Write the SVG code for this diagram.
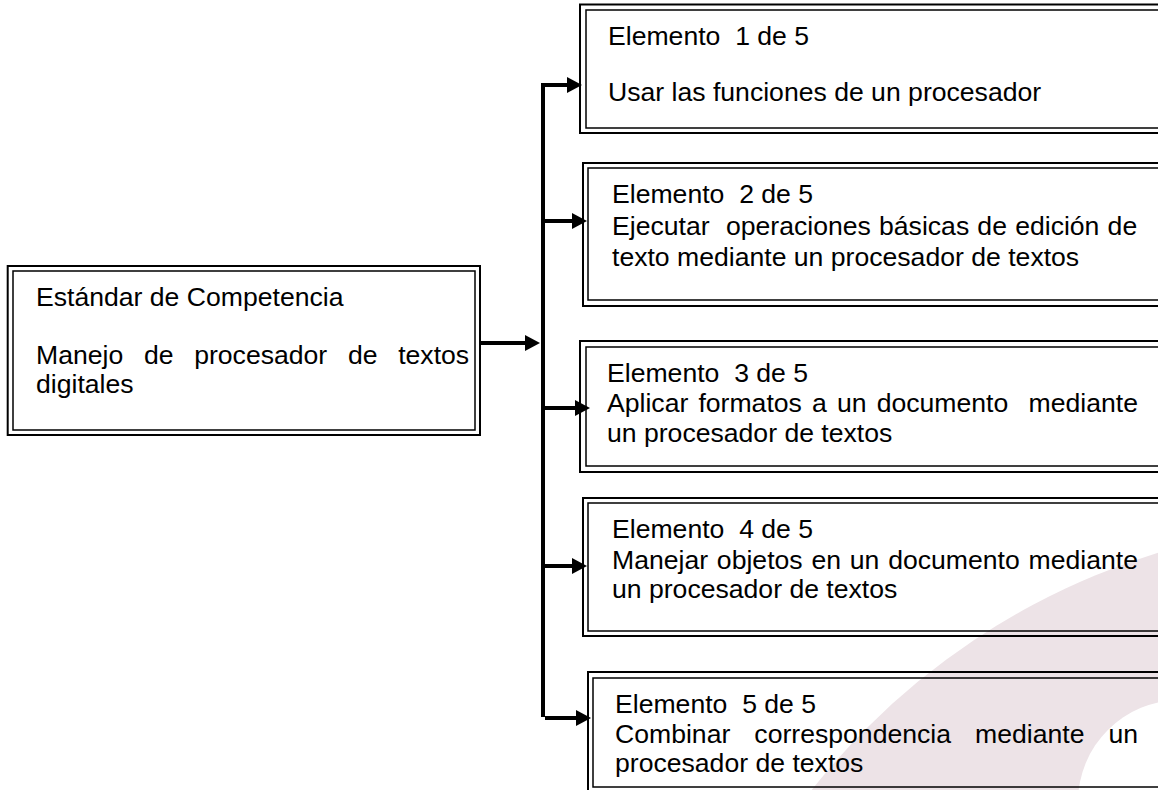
<svg xmlns="http://www.w3.org/2000/svg" width="1158" height="790" viewBox="0 0 1158 790" xml:space="preserve">
<style>
.o{fill:none;stroke:#000;stroke-width:2}
.i{fill:none;stroke:#000;stroke-width:1.5}
.t{font-family:"Liberation Sans",Arial,sans-serif;font-size:26.6px;fill:#000;white-space:pre}
.c{fill:none;stroke:#000;stroke-width:4}
.a{fill:#000;stroke:none}
</style>
<rect width="1158" height="790" fill="#fff"/>
<g id="watermark">
<circle cx="1364" cy="1225" r="703" fill="#ede3e7"/>
<circle cx="1180" cy="802" r="102" fill="#fff"/>
</g>
<g id="estandar">
<rect class="o" x="7.7" y="266" width="472.3" height="169"/>
<rect class="i" x="13" y="271" width="462" height="159"/>
<text class="t" x="36" y="306">Estándar de Competencia</text>
<text class="t" x="36" y="364" word-spacing="13.3">Manejo de procesador de textos</text>
<text class="t" x="36" y="393">digitales</text>
</g>
<g id="elemento1">
<rect class="o" x="580" y="4.5" width="600" height="128.5"/>
<rect class="i" x="586" y="10" width="590" height="118"/>
<text class="t" x="608" y="45">Elemento  1 de 5</text>
<text class="t" x="608" y="101">Usar las funciones de un procesador</text>
</g>
<g id="elemento2">
<rect class="o" x="583" y="163" width="600" height="143"/>
<rect class="i" x="588" y="168" width="590" height="132"/>
<text class="t" x="612" y="203">Elemento  2 de 5</text>
<text class="t" x="612" y="235" word-spacing="0.8">Ejecutar  operaciones básicas de edición de</text>
<text class="t" x="612" y="266">texto mediante un procesador de textos</text>
</g>
<g id="elemento3">
<rect class="o" x="580" y="341" width="600" height="131"/>
<rect class="i" x="586" y="347" width="590" height="119"/>
<text class="t" x="607" y="382">Elemento  3 de 5</text>
<text class="t" x="607" y="412" word-spacing="2.75">Aplicar formatos a un documento  mediante</text>
<text class="t" x="607" y="442">un procesador de textos</text>
</g>
<g id="elemento4">
<rect class="o" x="583" y="498" width="600" height="138"/>
<rect class="i" x="588" y="503" width="590" height="128"/>
<text class="t" x="612" y="538">Elemento  4 de 5</text>
<text class="t" x="612" y="569" word-spacing="1.4">Manejar objetos en un documento mediante</text>
<text class="t" x="612" y="598">un procesador de textos</text>
</g>
<g id="elemento5">
<rect class="o" x="588" y="672" width="600" height="123"/>
<rect class="i" x="593" y="678" width="590" height="109"/>
<text class="t" x="615" y="713">Elemento  5 de 5</text>
<text class="t" x="615" y="743" word-spacing="16.7">Combinar correspondencia mediante un</text>
<text class="t" x="615" y="772">procesador de textos</text>
</g>
<g id="connectors">
<line class="c" x1="543" y1="83" x2="543" y2="717"/>
<line class="c" x1="480" y1="343" x2="526" y2="343"/>
<polygon class="a" points="525,335 540,343 525,351"/>
<line class="c" x1="541" y1="85" x2="568" y2="85"/>
<polygon class="a" points="567,77 582,85 567,93"/>
<line class="c" x1="543" y1="221" x2="573" y2="221"/>
<polygon class="a" points="572,213 587,221 572,229"/>
<line class="c" x1="543" y1="408" x2="576" y2="408"/>
<polygon class="a" points="575,400 590,408 575,416"/>
<line class="c" x1="543" y1="566" x2="573" y2="566"/>
<polygon class="a" points="572,558 587,566 572,574"/>
<line class="c" x1="545" y1="718" x2="577" y2="718"/>
<polygon class="a" points="576,710 591,718 576,726"/>
</g>
</svg>
